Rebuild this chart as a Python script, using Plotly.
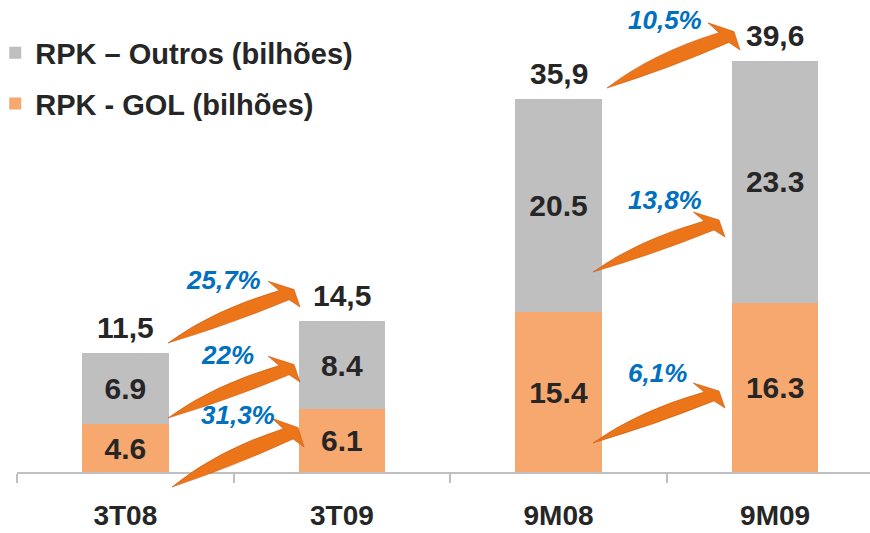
import plotly.graph_objects as go

categories = ["3T08", "3T09", "9M08", "9M09"]
rpk_gol = [4.6, 6.1, 15.4, 16.3]
rpk_outros = [6.9, 8.4, 20.5, 23.3]
totals = [11.5, 14.5, 35.9, 39.6]
growth_labels = ["31,3%", "22%", "25,7%", "6,1%", "13,8%", "10,5%"]

GRAY = "#BFBFBF"
ORANGE = "#F7A86F"
DARK = "#262626"
BLUE = "#0070C0"
ARROW = "#EC7419"
FONT = "Liberation Sans, Arial, sans-serif"

# layout geometry (pixels)
W, H = 870, 533
ML, MB = 17, 61
X_RANGE = [-0.5, 3.438]
Y_RANGE = [0, 45.47]


def px_to_paper(px, py):
    return (px - ML) / (W - ML), (H - MB - py) / (H - MB)


fig = go.Figure()
fig.add_trace(go.Bar(
    x=categories, y=rpk_gol, name="RPK - GOL (bilhões)",
    marker=dict(color=ORANGE, line=dict(width=0)),
    text=[f"{v:.1f}" for v in rpk_gol], textposition="inside",
    insidetextanchor="middle", constraintext="none",
    textfont=dict(family=FONT, size=30, color=DARK, weight="bold"),
    legendgroup="gol", legendrank=2, width=0.4,
))
fig.add_trace(go.Bar(
    x=categories, y=rpk_outros, name="RPK – Outros (bilhões)",
    marker=dict(color=GRAY, line=dict(width=0)),
    text=[f"{v:.1f}" for v in rpk_outros], textposition="inside",
    insidetextanchor="middle", constraintext="none",
    textfont=dict(family=FONT, size=30, color=DARK, weight="bold"),
    legendgroup="outros", legendrank=1, width=0.4,
))

annotations = []
for c, t in zip(categories, totals):
    annotations.append(dict(
        x=c, y=t, xref="x", yref="y", xanchor="center", yanchor="bottom", yshift=7,
        text=f"{t:.1f}".replace(".", ","), showarrow=False,
        font=dict(family=FONT, size=30, color=DARK, weight="bold"),
    ))

# arrows: (tail px, tip px, label centre px)
arrow_specs = [
    ((172, 487), (304, 447), (238, 415)),
    ((168, 418), (300, 382), (227, 355)),
    ((168, 343), (300, 307), (223, 280)),
    ((593, 443), (725, 408), (657, 373)),
    ((593, 272), (725, 237), (665, 200)),
    ((607, 88), (740, 50), (665, 20)),
]
# arrow outline in local pixels (x right, y up), tail at origin, tip at (133, 35)
ARROW_PATH = [("M", (0, 0)), ("Q", (45, 32), (112, 51)), ("L", (101, 60)),
              ("L", (127, 52)), ("L", (133, 35)), ("L", (122, 42)),
              ("Q", (62, 18), (0, 0))]

shapes = []
for (tail, tip, lab), label in zip(arrow_specs, growth_labels):
    sx = (tip[0] - tail[0]) / 133.0
    sy = (tail[1] - tip[1]) / 35.0

    def P(pt):
        x, y = px_to_paper(tail[0] + pt[0] * sx, tail[1] - pt[1] * sy)
        return f"{x:.5f},{y:.5f}"

    parts = []
    for cmd, *pts in ARROW_PATH:
        parts.append(cmd + " " + " ".join(P(p) for p in pts))
    path = " ".join(parts) + " Z"
    shapes.append(dict(type="path", path=path, xref="paper", yref="paper",
                       fillcolor=ARROW, line=dict(color="#C85A10", width=0.6),
                       layer="above"))
    lx, ly = px_to_paper(*lab)
    annotations.append(dict(
        x=lx, y=ly, xref="paper", yref="paper", xanchor="center", yanchor="middle",
        text=f"<i>{label}</i>", showarrow=False,
        font=dict(family=FONT, size=26, color=BLUE, weight="bold"),
    ))

fig.update_layout(
    width=W, height=H,
    margin=dict(l=ML, r=0, t=0, b=MB, autoexpand=False),
    paper_bgcolor="white", plot_bgcolor="white",
    barmode="stack",
    showlegend=True,
    legend=dict(x=-0.0255, y=0.942, xanchor="left", yanchor="top",
                traceorder="grouped", tracegroupgap=10,
                font=dict(family=FONT, size=29, color=DARK, weight="bold"),
                bgcolor="rgba(0,0,0,0)"),
    xaxis=dict(type="category", range=X_RANGE, showgrid=False, zeroline=False,
               automargin=False,
               showline=True, linecolor=GRAY, linewidth=1.5,
               ticks="outside", tickson="boundaries", ticklen=9, tickcolor=GRAY,
               tickwidth=1.5, ticklabelstandoff=18,
               tickfont=dict(family=FONT, size=28, color=DARK, weight="bold")),
    yaxis=dict(range=Y_RANGE, visible=False, showgrid=False, zeroline=False,
               automargin=False),
    annotations=annotations,
    shapes=shapes,
)

fig.write_html("out.html", config={"displayModeBar": False},
               post_script="document.body.style.margin='0';document.body.style.overflow='hidden';")
